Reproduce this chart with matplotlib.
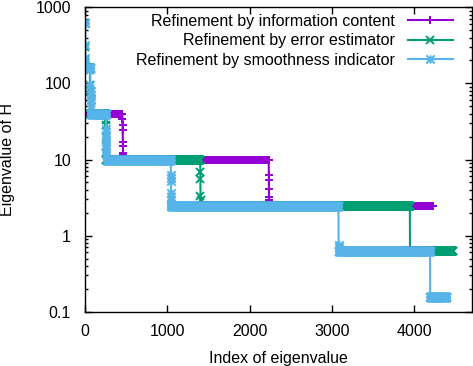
import numpy as np
import matplotlib
matplotlib.use("Agg")
import matplotlib.pyplot as plt
from matplotlib.path import Path

plt.rcParams['font.family'] = ['Liberation Sans', 'DejaVu Sans']
plt.rcParams['font.size'] = 11.5

# Eigenvalue spectra stored as runs: value and how many consecutive indices carry it
info_vals = [40, 33.7, 28.4, 24.4, 16.8, 15.2, 12.3, 11.5, 10,
             6.3, 5.3, 4.1, 3.2, 2.95, 2.45]
info_counts = [455, 1, 1, 1, 1, 1, 1, 1, 1770,
               1, 1, 1, 1, 1, 1985]

error_vals = [630, 300, 200, 185, 160, 150, 95, 80, 40,
              33, 28, 20, 15, 12, 10,
              6.9, 5.6, 3.3, 2.9, 2.45, 0.63]
error_counts = [1, 1, 1, 1, 55, 1, 1, 1, 193,
                1, 1, 1, 1, 1, 1140,
                1, 1, 1, 1, 2542, 520]

smooth_vals = [630, 320, 215, 175, 160, 95, 80, 70, 60, 50, 40,
               25, 21, 18, 15.7, 13.6, 11.8, 10,
               6.2, 5.7, 5.2, 3.6, 3.2, 2.9, 2.6, 2.45,
               0.75, 0.7, 0.627, 0.157]
smooth_counts = [3, 1, 1, 1, 60, 1, 1, 1, 1, 1, 185,
                 1, 1, 1, 1, 1, 1, 780,
                 1, 1, 1, 1, 1, 1, 1, 2030,
                 1, 1, 1110, 200]

labels = ['Refinement by information content',
          'Refinement by error estimator',
          'Refinement by smoothness indicator']
colors = ['#9400d3', '#009e73', '#56b4e9']

# gnuplot style asterisk: a plus and a cross on top of each other
star = Path([(-1, 0), (1, 0), (0, -1), (0, 1),
             (-1, -1), (1, 1), (-1, 1), (1, -1)],
            [Path.MOVETO, Path.LINETO] * 4)
markers = ['+', 'x', star]

fig = plt.figure(figsize=(4.73, 3.66), dpi=100)
ax = fig.add_axes([85 / 473, 54.3 / 366, 387 / 473, 304.4 / 366])

for vals, counts, lab, col, mk in zip([info_vals, error_vals, smooth_vals],
                                      [info_counts, error_counts, smooth_counts],
                                      labels, colors, markers):
    y = np.repeat(vals, counts)
    x = np.arange(len(y))
    ax.plot(x, y, color=col, lw=1.5, marker=mk, ms=6, mew=1.4, label=lab)

ax.set_yscale('log')
ax.set_xlim(0, 4700)
ax.set_ylim(0.1, 1000)
ax.set_xticks([0, 1000, 2000, 3000, 4000])
ax.set_yticks([0.1, 1, 10, 100, 1000])
ax.set_yticklabels(['0.1', '1', '10', '100', '1000'])
ax.tick_params(which='both', direction='in', top=True, right=True, width=1)
ax.tick_params(which='major', length=4.8, pad=10, labelsize=11.5)
ax.tick_params(axis='x', which='major', pad=9)
ax.tick_params(which='minor', length=2.4)
for s in ax.spines.values():
    s.set_linewidth(1)

ax.set_xlabel('Index of eigenvalue')
ax.set_ylabel('Eigenvalue of H')
ax.xaxis.set_label_coords(0.5, -0.128)
ax.yaxis.set_label_coords(-0.18, 0.5)

ax.legend(loc='upper right', bbox_to_anchor=(0.950, 0.978), markerfirst=False,
          frameon=False, handlelength=2.8, handletextpad=0.8, borderpad=0,
          borderaxespad=0, labelspacing=0.28, fontsize=11.5)

fig.savefig('out.png', dpi=100)
